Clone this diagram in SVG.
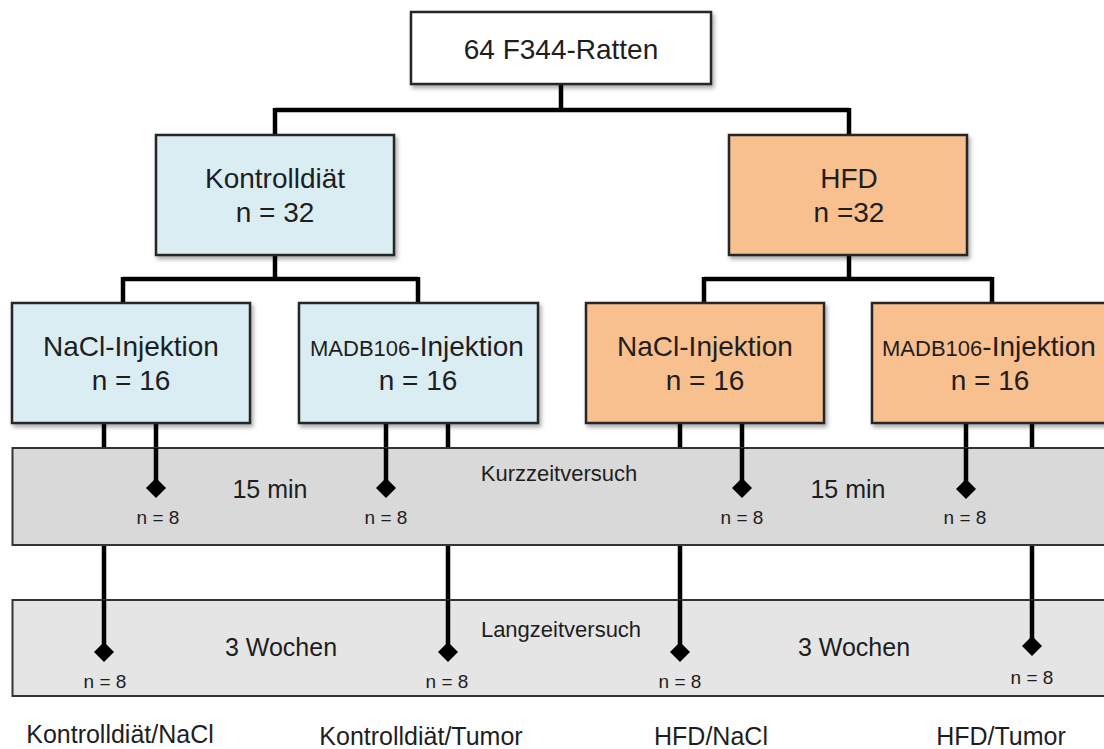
<svg xmlns="http://www.w3.org/2000/svg" width="1104" height="749" viewBox="0 0 1104 749">
<defs>
<filter id="sh" x="-10%" y="-10%" width="130%" height="130%">
<feDropShadow dx="2" dy="3" stdDeviation="2" flood-color="#000" flood-opacity="0.35"/>
</filter>
<style>
text{font-family:"Liberation Sans",Arial,sans-serif;fill:#1e1e1e;text-anchor:middle}
.big{font-size:28px}
.mid{font-size:25px}
.lab{font-size:25px}
.sm{font-size:22px}
.xs{font-size:19px}
.box{stroke:#262626;stroke-width:2.5}
.white{fill:#ffffff}
.blue{fill:#daedf3}
.orange{fill:#f9c08f}
.band{stroke:#333;stroke-width:2}
.con{stroke:#000;stroke-width:4.5;fill:none}
.dia{fill:#000}
</style>
</defs>
<rect width="1104" height="749" fill="#fff"/>
<g id="connectors">
<path class="con" d="M561 84V110M275 110H849M275 108V135M849 108V135"/>
<path class="con" d="M275 255V279M123 279H418M123 277V303M418 277V303"/>
<path class="con" d="M849 255V279M704 279H992M704 277V303M992 277V303"/>
<path class="con" d="M104 423V600M156 423V488M386 423V488M448 423V600M680 423V600M742 423V488M966 423V488M1032 423V600"/>
</g>
<g id="kurzzeit">
<rect class="band" x="12.5" y="448" width="1100" height="97" fill="#d9d9d9"/>
<text class="sm" x="559" y="481">Kurzzeitversuch</text>
<text class="mid" x="270" y="498">15 min</text>
<text class="mid" x="848" y="498">15 min</text>
</g>
<g id="langzeit">
<rect class="band" x="12.5" y="600" width="1100" height="96" fill="#e5e5e5"/>
<text class="sm" x="561" y="637">Langzeitversuch</text>
<text class="mid" x="281" y="656">3 Wochen</text>
<text class="mid" x="854" y="656">3 Wochen</text>
</g>
<g id="short-ends">
<path class="con" d="M156 448V488M386 448V488M742 448V488M966 448V488"/>
<path class="dia" d="M156 478L166 488L156 498L146 488Z"/>
<path class="dia" d="M386 478L396 488L386 498L376 488Z"/>
<path class="dia" d="M742 478L752 488L742 498L732 488Z"/>
<path class="dia" d="M966 479L976 489L966 499L956 489Z"/>
<text class="xs" x="158" y="524">n = 8</text>
<text class="xs" x="386" y="524">n = 8</text>
<text class="xs" x="742" y="524">n = 8</text>
<text class="xs" x="965" y="524">n = 8</text>
</g>
<g id="long-ends">
<path class="con" d="M104 600V652M448 600V652M680 600V652M1032 600V646"/>
<path class="dia" d="M104 642L114 652L104 662L94 652Z"/>
<path class="dia" d="M448 642L458 652L448 662L438 652Z"/>
<path class="dia" d="M680 642L690 652L680 662L670 652Z"/>
<path class="dia" d="M1032 636L1042 646L1032 656L1022 646Z"/>
<text class="xs" x="105" y="688">n = 8</text>
<text class="xs" x="447" y="688">n = 8</text>
<text class="xs" x="680" y="688">n = 8</text>
<text class="xs" x="1032" y="684">n = 8</text>
</g>
<g id="root">
<rect class="box white" x="411" y="12" width="300" height="72" filter="url(#sh)"/>
<text class="big" x="561" y="59">64 F344-Ratten</text>
</g>
<g id="kontroll">
<rect class="box blue" x="156" y="135" width="238" height="120" filter="url(#sh)"/>
<text class="big" x="275" y="188">Kontrolldiät</text>
<text class="big" x="275" y="222">n = 32</text>
</g>
<g id="hfd">
<rect class="box orange" x="729" y="135" width="238" height="120" filter="url(#sh)"/>
<text class="big" x="849" y="188">HFD</text>
<text class="big" x="849" y="222">n =32</text>
</g>
<g id="k-nacl">
<rect class="box blue" x="12" y="303" width="238" height="120" filter="url(#sh)"/>
<text class="big" x="131" y="356">NaCl-Injektion</text>
<text class="big" x="131" y="390">n = 16</text>
</g>
<g id="k-madb">
<rect class="box blue" x="299" y="303" width="239" height="120" filter="url(#sh)"/>
<text class="big" x="417" y="356"><tspan font-size="22px">MADB106</tspan>-Injektion</text>
<text class="big" x="418" y="390">n = 16</text>
</g>
<g id="h-nacl">
<rect class="box orange" x="586" y="303" width="238" height="120" filter="url(#sh)"/>
<text class="big" x="705" y="356">NaCl-Injektion</text>
<text class="big" x="705" y="390">n = 16</text>
</g>
<g id="h-madb">
<rect class="box orange" x="872" y="303" width="240" height="120" filter="url(#sh)"/>
<text class="big" x="989" y="356"><tspan font-size="22px">MADB106</tspan>-Injektion</text>
<text class="big" x="990" y="390">n = 16</text>
</g>
<g id="labels">
<text class="lab" x="120" y="743">Kontrolldiät/NaCl</text>
<text class="lab" x="421" y="745">Kontrolldiät/Tumor</text>
<text class="lab" x="711" y="745">HFD/NaCl</text>
<text class="lab" x="1001" y="745">HFD/Tumor</text>
</g>
</svg>
